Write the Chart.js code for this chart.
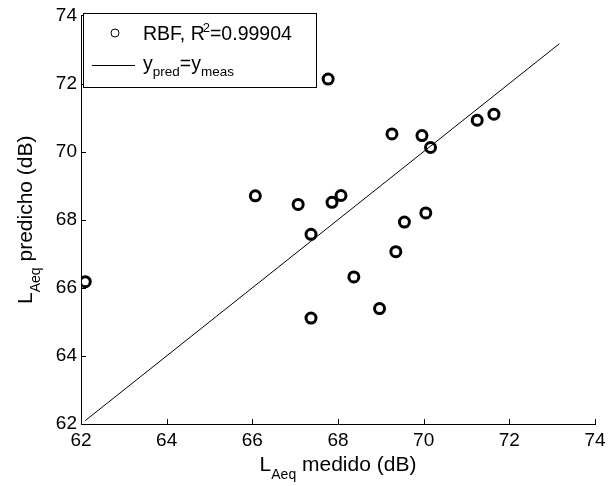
<!DOCTYPE html>
<html><head><meta charset="utf-8">
<script src="https://cdn.jsdelivr.net/npm/chart.js@4/dist/chart.umd.min.js"></script>
<style>html,body{margin:0;padding:0;background:#fff}</style>
</head><body>
<canvas id="c" width="614" height="486"></canvas>
<script>
// ---- data ----
const measured  = [62.10, 66.07, 67.07, 67.37, 67.37, 67.77, 67.86, 68.07, 68.37, 68.97, 69.26, 69.35, 69.55, 69.96, 70.05, 70.16, 71.25, 71.64];
const predicted = [66.18, 68.70, 68.45, 67.57, 65.11, 72.13, 68.51, 68.71, 66.32, 65.39, 70.52, 67.06, 67.93, 70.47, 68.20, 70.12, 70.92, 71.10];
const refLineX  = [62.10, 73.17];           // y_pred = y_meas
const xTicks    = [62, 64, 66, 68, 70, 72, 74];
const yTicks    = [62, 64, 66, 68, 70, 72, 74];
const legendR2  = "0.99904";

const FONT = '"Liberation Sans", Arial, Helvetica, sans-serif';

function runsWidth(ctx, runs){
  let w = 0;
  for (const r of runs){ ctx.font = r.size + 'px ' + FONT; w += ctx.measureText(r.t).width + (r.adv||0); }
  return w;
}
function drawRuns(ctx, runs, x, y){
  let cx = x;
  for (const r of runs){
    ctx.font = r.size + 'px ' + FONT;
    ctx.fillText(r.t, cx, y + (r.dy||0));
    cx += ctx.measureText(r.t).width + (r.adv||0);
  }
}

const decor = {
  id: 'decor',
  afterDatasetsDraw(chart){
    const ctx = chart.ctx, xs = chart.scales.x, ys = chart.scales.y;
    const ca = chart.chartArea;
    ctx.save();
    // inward ticks
    ctx.strokeStyle = '#000'; ctx.lineWidth = 1;
    ctx.beginPath();
    for (const v of xTicks){ const px = Math.round(xs.getPixelForValue(v)) + 0.5; ctx.moveTo(px, ca.bottom); ctx.lineTo(px, ca.bottom - 5); }
    for (const v of yTicks){ const py = Math.round(ys.getPixelForValue(v)) + 0.5; ctx.moveTo(ca.left, py); ctx.lineTo(ca.left + 5, py); }
    ctx.stroke();

    ctx.fillStyle = '#000';
    ctx.textBaseline = 'alphabetic';
    ctx.textAlign = 'left';
    // x title
    const xr = [{t:'L', size:21}, {t:'Aeq', size:14, dy:8}, {t:' medido (dB)', size:21}];
    const xw = runsWidth(ctx, xr);
    drawRuns(ctx, xr, (ca.left + ca.right)/2 - xw/2, 471);
    // y title
    const yr = [{t:'L', size:21}, {t:'Aeq', size:14, dy:8}, {t:' predicho (dB)', size:21}];
    const yw = runsWidth(ctx, yr);
    ctx.save();
    ctx.translate(32, (ca.top + ca.bottom)/2 + yw/2);
    ctx.rotate(-Math.PI/2);
    drawRuns(ctx, yr, 0, 0);
    ctx.restore();

    // legend box
    const bx = 83, by = 13, bw = 233, bh = 74;
    ctx.fillStyle = '#fff';
    ctx.fillRect(bx, by, bw, bh);
    ctx.strokeStyle = '#000'; ctx.lineWidth = 1;
    ctx.strokeRect(bx + 0.5, by + 0.5, bw, bh);
    // row 1 marker
    ctx.beginPath(); ctx.arc(115, 33, 4, 0, Math.PI*2); ctx.stroke();
    ctx.fillStyle = '#000';
    drawRuns(ctx, [{t:'RBF, R', size:19.5, adv:-2}, {t:'2', size:13, dy:-8, adv:0}, {t:'=' + legendR2, size:19.5}], 143, 40);
    // row 2 line
    ctx.beginPath(); ctx.moveTo(92, 65.5); ctx.lineTo(135, 65.5); ctx.stroke();
    drawRuns(ctx, [{t:'y', size:19.5}, {t:'pred', size:13.5, dy:6}, {t:'=y', size:19.5}, {t:'meas', size:13.5, dy:6}], 143, 70);
    ctx.restore();
  }
};

const axisCommon = {
  type: 'linear', min: 62, max: 74,
  grid: { drawOnChartArea: false, drawTicks: false },
  border: { display: true, color: '#000', width: 1 },
};

new Chart(document.getElementById('c'), {
  data: {
    datasets: [
      {
        type: 'scatter',
        label: 'RBF',
        data: measured.map((m, i) => ({x: m, y: predicted[i]})),
        pointRadius: 5, pointHoverRadius: 5,
        pointBorderWidth: 3,
        borderColor: '#000', backgroundColor: 'rgba(0,0,0,0)',
        pointStyle: 'circle',
        order: 2
      },
      {
        type: 'line',
        label: 'y_pred=y_meas',
        data: refLineX.map(v => ({x: v, y: v})),
        borderColor: '#000', borderWidth: 1,
        pointRadius: 0, fill: false, tension: 0,
        order: 1
      }
    ]
  },
  options: {
    responsive: false, animation: false, devicePixelRatio: 1,
    layout: { padding: { top: 13, right: 19, left: 0, bottom: 0 } },
    plugins: { legend: { display: false }, tooltip: { enabled: false } },
    scales: {
      x: Object.assign({}, axisCommon, {
        afterBuildTicks: s => { s.ticks = xTicks.map(v => ({value: v})); },
        afterFit: s => { s.height = 62; },
        ticks: { color: '#000', font: { family: FONT, size: 19 }, padding: 5, maxRotation: 0, autoSkip: false }
      }),
      y: Object.assign({}, axisCommon, {
        afterBuildTicks: s => { s.ticks = yTicks.map(v => ({value: v})); },
        afterFit: s => { s.width = 81; },
        ticks: { color: '#000', font: { family: FONT, size: 19 }, padding: 4, autoSkip: false }
      })
    }
  },
  plugins: [decor]
});
</script>
</body></html>
